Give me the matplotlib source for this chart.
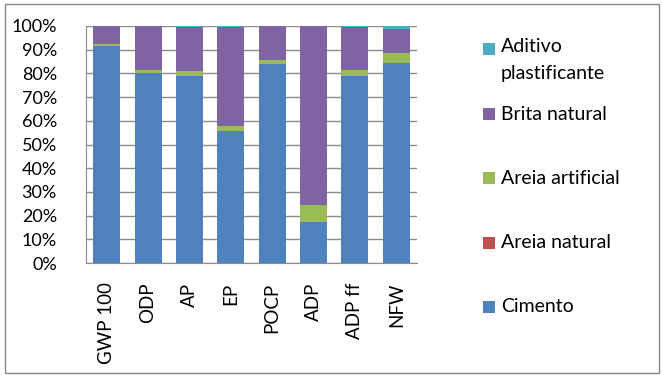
import matplotlib
matplotlib.use('Agg')
import matplotlib.pyplot as plt
from matplotlib.patches import Rectangle
import numpy as np

plt.rcParams['font.family'] = ['Lato', 'DejaVu Sans']

# Data (percent share per impact category)
categories = ['GWP 100', 'ODP', 'AP', 'EP', 'POCP', 'ADP', 'ADP ff', 'NFW']
cimento = [91.6, 80.0, 78.9, 55.6, 84.0, 17.3, 78.9, 84.3]
areia_natural = [0.0, 0.0, 0.0, 0.0, 0.0, 0.0, 0.0, 0.0]
areia_artificial = [0.8, 1.4, 2.1, 2.2, 1.7, 7.3, 2.5, 4.4]
brita_natural = [7.5, 18.5, 18.7, 41.9, 14.2, 75.3, 18.3, 10.0]
aditivo = [0.1, 0.1, 0.3, 0.3, 0.1, 0.1, 0.3, 1.3]

series = [
    ('Cimento', cimento, '#4F81BD'),
    ('Areia natural', areia_natural, '#C0504D'),
    ('Areia artificial', areia_artificial, '#9BBB59'),
    ('Brita natural', brita_natural, '#8064A2'),
    ('Aditivo\nplastificante', aditivo, '#4BACC6'),
]

W, H = 662, 375
fig = plt.figure(figsize=(W / 100, H / 100), dpi=100)
ax = fig.add_axes([86 / W, 1 - 263 / H, (417 - 86) / W, (263 - 26) / H])

x = np.arange(len(categories))
bottom = np.zeros(len(categories))
for name, vals, col in series:
    vals = np.array(vals, dtype=float)
    ax.bar(x, vals / 100, 0.65, bottom=bottom / 100, color=col, zorder=3)
    bottom += vals

ax.set_xlim(-0.5, len(categories) - 0.5)
ax.set_ylim(0, 1)
ticks = np.arange(0, 1.01, 0.1)
ax.set_yticks(ticks)
ax.set_yticklabels([f'{int(round(v * 100))}%' for v in ticks])
ax.set_xticks(x)
ax.set_xticklabels(categories, rotation=90)
ax.tick_params(axis='y', length=0, pad=21, labelsize=13, colors='#000000')
ax.tick_params(axis='x', length=0, pad=14, labelsize=13.5)
ax.grid(axis='y', color='#8c8c8c', linewidth=1, zorder=0)
for s in ['top', 'right']:
    ax.spines[s].set_visible(False)
for s in ['left', 'bottom']:
    ax.spines[s].set_color('#8c8c8c')

# legend drawn by hand, Excel-style spread on the right
leg_items = [(name, col) for name, _, col in series][::-1]
leg_y = [49, 114, 178, 243, 307]
for (name, col), yy in zip(leg_items, leg_y):
    fig.patches.append(Rectangle((483 / W, 1 - (yy + 6) / H), 12 / W, 12 / H,
                                 transform=fig.transFigure, facecolor=col,
                                 edgecolor='none'))
    if '\n' in name:
        fig.text(501 / W, 1 - (yy - 11) / H, name, fontsize=14, va='top',
                 ha='left', linespacing=1.75)
    else:
        fig.text(501 / W, 1 - yy / H, name, fontsize=14, va='center', ha='left')

# chart border
fig.patches.append(Rectangle((5 / W, 1 - 373 / H), 654 / W, 369 / H,
                             transform=fig.transFigure, facecolor='none',
                             edgecolor='#868686', linewidth=1))

fig.savefig('out.png', dpi=100)
